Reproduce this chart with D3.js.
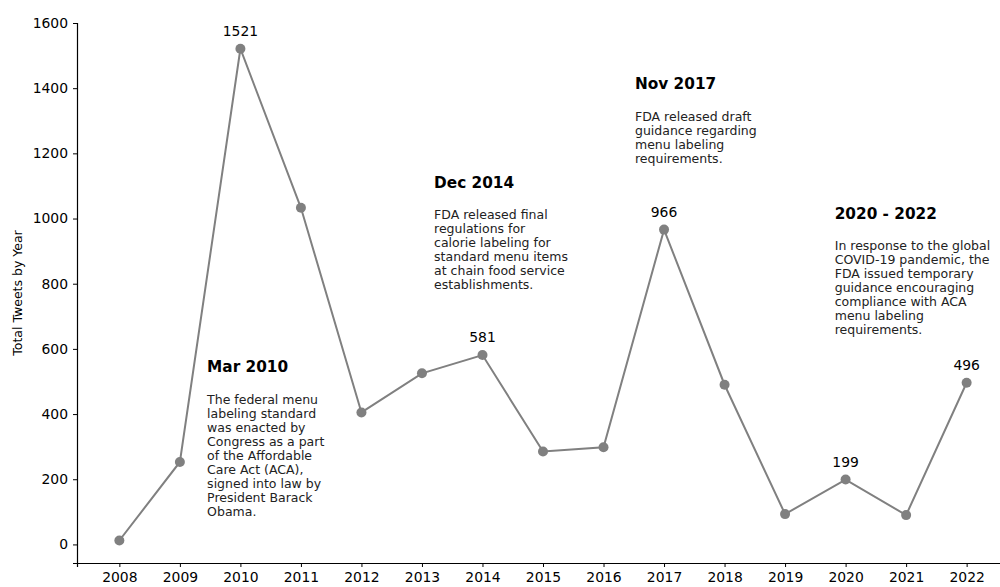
<!DOCTYPE html>
<html>
<head>
<meta charset="utf-8">
<script src="https://cdn.jsdelivr.net/npm/d3@7"></script>
<style>
  body { margin: 0; background: #fff; }
  text { font-family: "DejaVu Sans", sans-serif; }
</style>
</head>
<body>
<div id="wrapper"></div>
<script>
// Data
const years = [2008, 2009, 2010, 2011, 2012, 2013, 2014, 2015, 2016, 2017, 2018, 2019, 2020, 2021, 2022]
const tweets = [12, 253, 1521, 1033, 405, 525, 581, 285, 298, 966, 490, 93, 199, 90, 496]
const labelledYears = [2010, 2014, 2017, 2020, 2022]
const yTicks = [0, 200, 400, 600, 800, 1000, 1200, 1400, 1600]

const notes = [
  { year: 2009.45, value: 529, title: "Mar 2010",
    lines: ["The federal menu", "labeling standard", "was enacted by", "Congress as a part", "of the Affordable", "Care Act (ACA),", "signed into law by", "President Barack", "Obama."] },
  { year: 2013.2, value: 1095, title: "Dec 2014",
    lines: ["FDA released final", "regulations for", "calorie labeling for", "standard menu items", "at chain food service", "establishments."] },
  { year: 2016.52, value: 1397, title: "Nov 2017",
    lines: ["FDA released draft", "guidance regarding", "menu labeling", "requirements."] },
  { year: 2019.82, value: 999, title: "2020 - 2022",
    lines: ["In response to the global", "COVID-19 pandemic, the", "FDA issued temporary", "guidance encouraging", "compliance with ACA", "menu labeling", "requirements."] }
]

const dataset = years.map((y, i) => ({ year: y, value: tweets[i] }))

const dimensions = {
  width: 1000,
  height: 587,
  margin: { top: 23, right: -9, bottom: 24, left: 77 }
}
dimensions.boundedWidth = dimensions.width - dimensions.margin.left - dimensions.margin.right
dimensions.boundedHeight = dimensions.height - dimensions.margin.top - dimensions.margin.bottom

const svg = d3.select("#wrapper")
  .append("svg")
    .attr("width", dimensions.width)
    .attr("height", dimensions.height)

const bounds = svg.append("g")
  .attr("transform", `translate(${dimensions.margin.left},${dimensions.margin.top})`)

// Scales
const xScale = d3.scaleLinear()
  .domain([2007.3, 2022.7])
  .range([0, dimensions.boundedWidth])

const yScale = d3.scaleLinear()
  .domain([-57, 1600])
  .range([dimensions.boundedHeight, 0])

// Axes
const xAxis = bounds.append("g")
  .attr("transform", `translate(0,${dimensions.boundedHeight})`)
  .call(d3.axisBottom(xScale).tickValues(years).tickFormat(d3.format("d")).tickSizeOuter(0).tickSize(4).tickPadding(5))
xAxis.select(".domain").attr("stroke", "#000").attr("stroke-width", 1.2)
xAxis.selectAll("text").style("font-size", "13.9px").attr("fill", "#000")

const yAxis = bounds.append("g")
  .call(d3.axisLeft(yScale).tickValues(yTicks).tickFormat(d3.format("d")).tickSizeOuter(0).tickSize(4).tickPadding(5))
yAxis.select(".domain").attr("stroke", "#000").attr("stroke-width", 1.2)
yAxis.selectAll("text").style("font-size", "13.9px").attr("fill", "#000")

svg.append("text")
  .attr("transform", `translate(22,${dimensions.margin.top + dimensions.boundedHeight / 2}) rotate(-90)`)
  .attr("text-anchor", "middle")
  .style("font-size", "12.5px")
  .text("Total Tweets by Year")

// Line + points
const lineGenerator = d3.line()
  .x(d => xScale(d.year))
  .y(d => yScale(d.value))

bounds.append("path")
  .attr("d", lineGenerator(dataset))
  .attr("fill", "none")
  .attr("stroke", "#808080")
  .attr("stroke-width", 2)

bounds.selectAll("circle")
  .data(dataset)
  .join("circle")
    .attr("cx", d => xScale(d.year))
    .attr("cy", d => yScale(d.value))
    .attr("r", 5)
    .attr("fill", "#808080")

bounds.selectAll(".value-label")
  .data(dataset.filter(d => labelledYears.includes(d.year)))
  .join("text")
    .attr("class", "value-label")
    .attr("x", d => xScale(d.year))
    .attr("y", d => yScale(d.value) - 13)
    .attr("text-anchor", "middle")
    .style("font-size", "13.9px")
    .text(d => d.value)

// Annotations
const noteGroups = bounds.selectAll(".note")
  .data(notes)
  .join("g")
    .attr("class", "note")
    .attr("transform", d => `translate(${xScale(d.year)},${yScale(d.value)})`)

noteGroups.append("text")
  .attr("y", 0)
  .style("font-size", "15.3px")
  .style("font-weight", "bold")
  .text(d => d.title)

noteGroups.each(function(d) {
  d3.select(this).selectAll(".body")
    .data(d.lines)
    .join("text")
      .attr("class", "body")
      .attr("y", (l, i) => 31.5 + i * 14)
      .style("font-size", "12.5px")
      .attr("fill", "#222")
      .text(l => l)
})
</script>
</body>
</html>
